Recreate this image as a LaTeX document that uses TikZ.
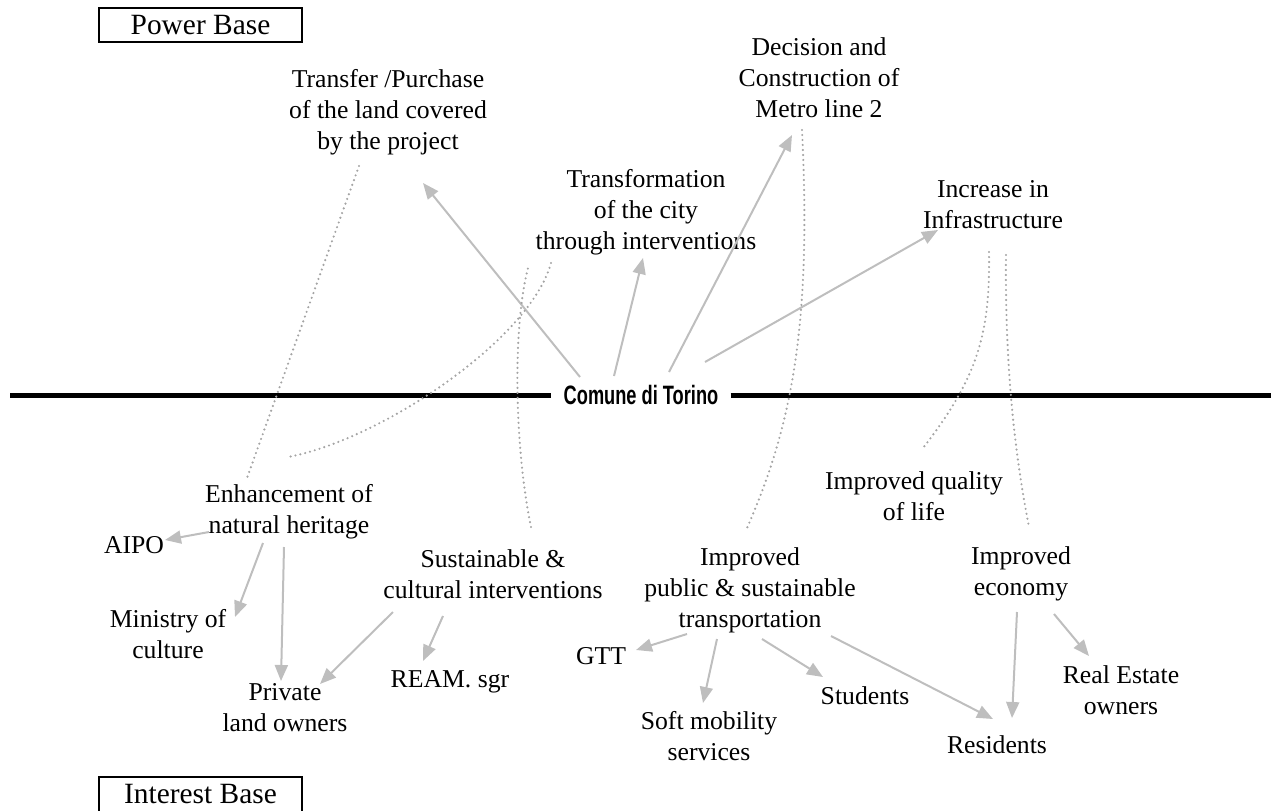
\documentclass[tikz,border=0pt]{standalone}
\usepackage{fontspec}
\setmainfont{Liberation Serif}
\newfontfamily\comunefont{Liberation Sans}
\usepackage{graphicx}
\usepackage{tikz}
\usetikzlibrary{arrows.meta, calc}

\definecolor{arrgray}{HTML}{BEBEBE}
\definecolor{dotgray}{HTML}{A4A4A4}

\begin{document}
\begin{tikzpicture}[x=0.5pt, y=-0.5pt,
    lbl/.style={align=center, inner sep=0pt, font=\fontsize{12.85}{15.5}\selectfont},
    basebox/.style={draw, line width=0.8pt, minimum width=101.5pt, minimum height=17pt, inner sep=0pt, font=\fontsize{14.7}{17}\selectfont},
    arr/.style={draw=arrgray, line width=1pt, -{Triangle[length=8pt, width=6.5pt]}},
    dotline/.style={draw=dotgray, line width=1.2pt, line cap=round, dash pattern=on 0pt off 2.5pt}]
    \useasboundingbox (0,0) rectangle (1271,810);

    % bases
    \node[basebox] (power) at (200.5,25) {Power Base};
    \node[basebox, minimum height=17.5pt] (interest) at (200.5,794.5) {Interest Base};

    % power side
    \node[lbl] (transfer) at (388,112) {Transfer /Purchase\\of the land covered\\by the project};
    \node[lbl] (decision) at (819,78) {Decision and\\Construction of\\Metro line 2};
    \node[lbl] (transform) at (646,212) {Transformation\\of the city\\through interventions};
    \node[lbl] (increase) at (993,205) {Increase in\\Infrastructure};

    % actor on the line
    \node[inner xsep=6pt, inner ysep=0pt] (comune) at (641,395)
        {\scalebox{0.685}[1]{\comunefont\bfseries\fontsize{13.3}{16}\selectfont Comune di Torino}};
    \coordinate (lineL) at (10,395);
    \coordinate (lineR) at (1271,395);
    \draw[line width=2.5pt] (lineL) -- (comune.west);
    \draw[line width=2.5pt] (comune.east) -- (lineR);

    % interest side
    \node[lbl] (enhance) at (289,512) {Enhancement of\\natural heritage};
    \node[lbl] (aipo) at (134,545) {AIPO};
    \node[lbl] (ministry) at (168,634) {Ministry of\\culture};
    \node[lbl] (private) at (285,708) {Private\\land owners};
    \node[lbl] (sustain) at (493,574) {Sustainable \&\\cultural interventions};
    \node[lbl] (ream) at (450,682) {REAM. sgr};
    \node[lbl] (transport) at (750,590) {Improved\\public \& sustainable\\transportation};
    \node[lbl] (gtt) at (601,656) {GTT};
    \node[lbl] (soft) at (709,736) {Soft mobility\\services};
    \node[lbl] (students) at (865,696) {Students};
    \node[lbl] (quality) at (914,496) {Improved quality\\of life};
    \node[lbl] (economy) at (1021,574) {Improved\\economy};
    \node[lbl] (residents) at (997,745) {Residents};
    \node[lbl] (realestate) at (1121,690) {Real Estate\\owners};

    % arrows from the actor
    \draw[arr] ($(comune)+(-61,-18)$) -- ($(transfer)+(35,71)$);
    \draw[arr] ($(comune)+(-27,-19)$) -- ($(transform)+(-3,46)$);
    \draw[arr] ($(comune)+(28,-23)$) -- ($(decision)+(-27,57)$);
    \draw[arr] ($(comune)+(64,-33)$) -- ($(increase)+(-55,25)$);

    % arrows to stakeholders
    \draw[arr] ($(enhance)+(-80,20)$) -- ($(aipo)+(31,-5)$);
    \draw[arr] ($(enhance)+(-26,31)$) -- ($(ministry)+(67,-17)$);
    \draw[arr] ($(enhance)+(-5,35)$) -- ($(private)+(-4,-27)$);
    \draw[arr] ($(sustain)+(-100,38)$) -- ($(private)+(35,-24)$);
    \draw[arr] ($(sustain)+(-50,42)$) -- ($(ream)+(-27,-21)$);
    \draw[arr] ($(transport)+(-63,44)$) -- ($(gtt)+(35,-6)$);
    \draw[arr] ($(transport)+(-33,49)$) -- ($(soft)+(-6,-33)$);
    \draw[arr] ($(transport)+(12,49)$) -- ($(students)+(-42,-19)$);
    \draw[arr] ($(transport)+(81,46)$) -- ($(residents)+(-4,-26)$);
    \draw[arr] ($(economy)+(-4,38)$) -- ($(residents)+(15,-27)$);
    \draw[arr] ($(economy)+(33,40)$) -- ($(realestate)+(-32,-34)$);

    % dotted links across the line
    \draw[dotline] ($(transfer)+(-29,54)$) -- ($(enhance)+(-42,-34)$);
    \draw[dotline] ($(transform)+(-95,51)$) .. controls (530,340) and (380,440) .. ($(enhance)+(-1,-55)$);
    \draw[dotline] ($(sustain)+(38,-47)$) .. controls (515,450) and (512,330) .. ($(transform)+(-118,56)$);
    \draw[dotline] ($(decision)+(-17,52)$) .. controls (812,330) and (790,430) .. ($(transport)+(-3,-62)$);
    \draw[dotline] ($(increase)+(-4,47)$) .. controls (990,330) and (980,375) .. ($(quality)+(9,-48)$);
    \draw[dotline] ($(increase)+(13,50)$) .. controls (1005,350) and (1012,440) .. ($(economy)+(8,-47)$);
\end{tikzpicture}
\end{document}
